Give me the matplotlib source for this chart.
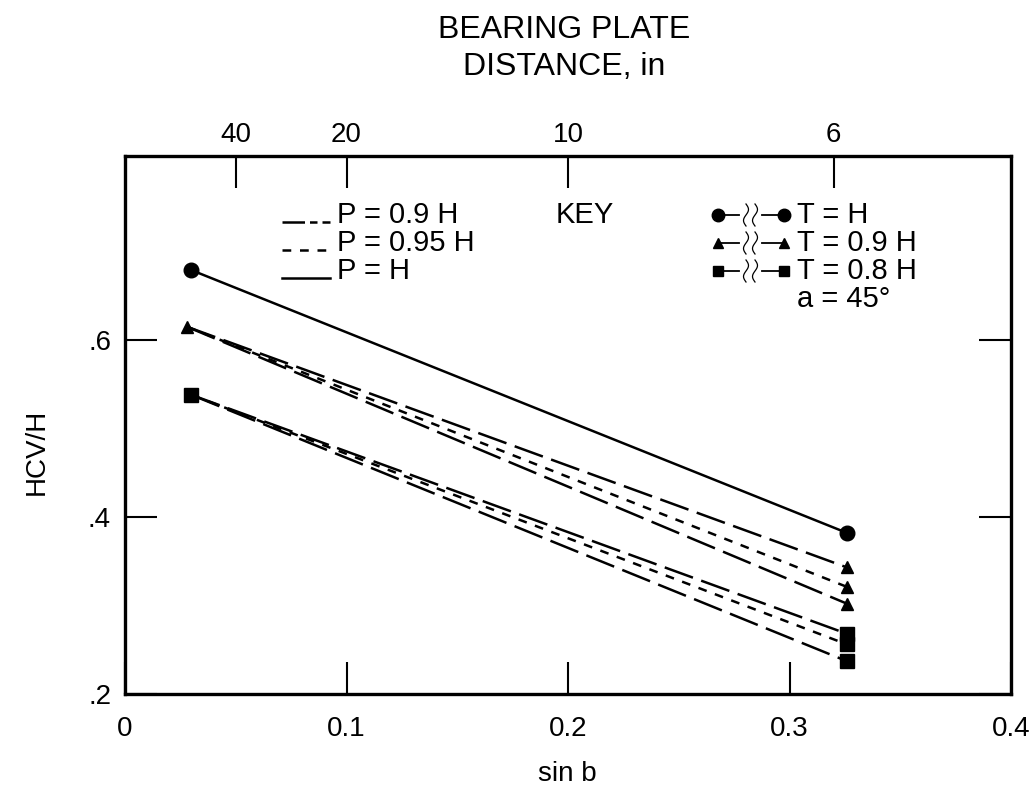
import matplotlib.pyplot as plt
import numpy as np

plt.rcParams['font.family'] = ['Liberation Sans', 'DejaVu Sans']

# Datos
x_inicio = [0.030, 0.028, 0.030]          # T = H, T = 0.9 H, T = 0.8 H
x_final = 0.326
y_inicio = [0.679, 0.615, 0.538]
# finales por grupo: (P = 0.9 H, P = 0.95 H, P = H) -- T = H solo tiene linea continua
y_final_circulo = 0.382
y_final_triangulo = [0.343, 0.321, 0.302]
y_final_cuadrado = [0.268, 0.256, 0.237]

x_ticks = [0, 0.1, 0.2, 0.3, 0.4]
x_labels = ['0', '0.1', '0.2', '0.3', '0.4']
y_ticks = [0.2, 0.4, 0.6]
y_labels = ['.2', '.4', '.6']
top_ticks = [0.05, 0.10, 0.20, 0.32]
top_labels = ['40', '20', '10', '6']

lw = 1.8
largo = (0, (12, 3.5))
corto = (0, (3.5, 3.5))

fig = plt.figure(figsize=(10.32, 7.93), dpi=100)
ax = fig.add_axes([125 / 1032, 1 - 694 / 793, 886 / 1032, 538 / 793])

# T = H
ax.plot([x_inicio[0], x_final], [y_inicio[0], y_final_circulo], color='black', lw=lw, linestyle='-')
ax.plot([x_inicio[0], x_final], [y_inicio[0], y_final_circulo], 'o', color='black', ms=10.5)

# T = 0.9 H y T = 0.8 H
grupos = [(x_inicio[1], y_inicio[1], y_final_triangulo, '^', 8.5),
          (x_inicio[2], y_inicio[2], y_final_cuadrado, 's', 9.5)]
for x0, y0, finales, marcador, ms in grupos:
    for yf, estilo in zip(finales, [largo, corto, largo]):
        ax.plot([x0, x_final], [y0, yf], color='black', lw=lw, linestyle=estilo)
        ax.plot([x_final], [yf], marcador, color='black', ms=ms)
    ax.plot([x0], [y0], marcador, color='black', ms=ms)

ax.set_xlim(0, 0.4)
ax.set_ylim(0.2, 0.808)
ax.set_xticks(x_ticks, x_labels)
ax.set_yticks(y_ticks, y_labels)
ax.tick_params(direction='in', length=23, width=1.5, labelsize=20, pad=10,
               top=False, right=True)
ax.tick_params(axis='x', pad=16)
for s in ax.spines.values():
    s.set_linewidth(2.4)

ax_top = ax.twiny()
ax_top.set_xlim(0, 0.4)
ax_top.set_xticks(top_ticks, top_labels)
ax_top.tick_params(direction='in', length=23, width=1.5, labelsize=20, pad=6)

ax.set_ylabel('HCV/H', fontsize=20)
ax.yaxis.set_label_coords(-0.085, 0.45)
fig.text(0.55, 1 - 774 / 793, 'sin b', ha='center', va='center', fontsize=20)
fig.text(0.547, 0.962, 'BEARING PLATE', ha='center', va='center', fontsize=23)
fig.text(0.547, 0.915, 'DISTANCE, in', ha='center', va='center', fontsize=23)

# Clave de lineas (P)
tr = ax.transAxes
def px(x, y):
    return ((x - 125) / 886, (694 - y) / 538)

filas = [215, 243, 271]
estilos_key = [(0, (9, 2, 3, 2)), corto, '-']
textos_p = ['P = 0.9 H', 'P = 0.95 H', 'P = H']
for yy, est, txt in zip(filas, estilos_key, textos_p):
    a = px(282, yy + 7)
    b = px(330, yy + 7)
    ax.plot([a[0], b[0]], [a[1], b[1]], color='black', lw=lw, linestyle=est, transform=tr)
    ax.text(*px(337, yy), txt, transform=tr, fontsize=21, va='center', ha='left')
ax.text(*px(556, 215), 'KEY', transform=tr, fontsize=21, va='center', ha='left')

# Clave de marcadores (T) con simbolo de corte
textos_t = ['T = H', 'T = 0.9 H', 'T = 0.8 H']
for yy, m, ms, txt in zip(filas, ['o', '^', 's'], [9, 7, 7.5], textos_t):
    x1, x2 = 718, 784
    p1, p2 = px(x1, yy), px(x2, yy)
    ax.plot([p1[0], px(739, yy)[0]], [p1[1], p1[1]], color='black', lw=1.3, transform=tr)
    ax.plot([px(762, yy)[0], p2[0]], [p1[1], p1[1]], color='black', lw=1.3, transform=tr)
    ax.plot([p1[0], p2[0]], [p1[1], p2[1]], m, color='black', ms=ms, transform=tr)
    t = np.linspace(-1, 1, 20)
    for xc in (746, 755):
        xs = [px(xc + 2.5 * np.sin(np.pi * v), 0)[0] for v in t]
        ys = [px(0, yy - 11 * v)[1] for v in t]
        ax.plot(xs, ys, color='black', lw=0.9, transform=tr)
    ax.text(*px(797, yy), txt, transform=tr, fontsize=21, va='center', ha='left')
ax.text(*px(797, 299), 'a = 45°', transform=tr, fontsize=21, va='center', ha='left')

fig.savefig('out.png', dpi=100)
